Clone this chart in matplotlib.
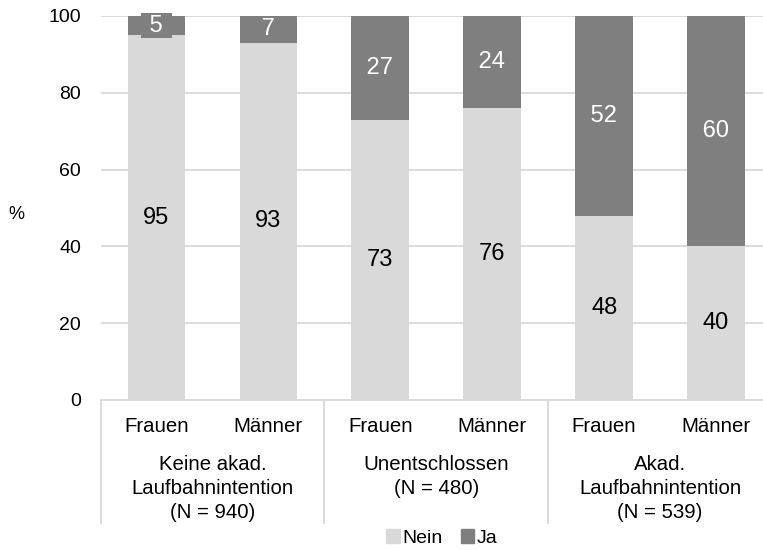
import matplotlib
matplotlib.use("Agg")
import matplotlib.pyplot as plt
from matplotlib.patches import Patch
import matplotlib.transforms as mtransforms

plt.rcParams['font.family'] = ['Liberation Sans', 'DejaVu Sans']

groups = ["Keine akad.\nLaufbahnintention\n(N = 940)",
          "Unentschlossen\n(N = 480)",
          "Akad.\nLaufbahnintention\n(N = 539)"]
sexes = ["Frauen", "Männer"]
nein = [95, 93, 73, 76, 48, 40]
ja = [5, 7, 27, 24, 52, 60]
yticks = [0, 20, 40, 60, 80, 100]

c_nein = '#d9d9d9'
c_ja = '#7f7f7f'
fs_tick = 14
fs_cat = 14.7
fs_lab = 17

W, H = 763, 550
fig = plt.figure(figsize=(W / 100, H / 100), dpi=100)
ax = fig.add_axes([100.5 / W, 150 / H, (772 - 100.5) / W, 384 / H])

x = list(range(len(nein)))
bw = 0.515
ax.bar(x, nein, width=bw, color=c_nein, zorder=2)
ax.bar(x, ja, width=bw, bottom=nein, color=c_ja, zorder=2)

for xi, n, j in zip(x, nein, ja):
    ax.text(xi, n / 2, str(n), ha='center', va='center', fontsize=fs_lab,
            color='black', zorder=3)
    ax.text(xi, n + j / 2, " " + str(j) + " ", ha='center', va='center',
            fontsize=fs_lab, color='white', zorder=3,
            bbox=dict(boxstyle='square,pad=0.08', fc=c_ja, ec='none'))

ax.set_xlim(-0.5, len(nein) - 0.5)
ax.set_ylim(0, 100)
ax.set_yticks(yticks)
ax.set_yticklabels([str(t) for t in yticks], fontsize=fs_tick)
ax.tick_params(axis='y', length=0, pad=14)
ax.set_xticks([])
ax.grid(axis='y', color='#d9d9d9', linewidth=1.3, zorder=0)
ax.set_axisbelow(True)
for s in ['left', 'right', 'top']:
    ax.spines[s].set_visible(False)
ax.spines['bottom'].set_color('#d9d9d9')
ax.spines['bottom'].set_linewidth(1.3)

trans = mtransforms.blended_transform_factory(ax.transData, ax.transAxes)
# category labels
for xi in x:
    ax.text(xi, -26 / 384, sexes[xi % 2], transform=trans, ha='center',
            va='center', fontsize=fs_cat)
# group labels
for gi, g in enumerate(groups):
    ax.text(2 * gi + 0.5, -55 / 384, g, transform=trans, ha='center',
            va='top', fontsize=fs_cat, linespacing=1.33)
# separators
for sx in [-0.5, 1.5, 3.5, 5.5]:
    ax.plot([sx, sx], [0, -123 / 384], transform=trans, color='#d9d9d9',
            linewidth=1.3, clip_on=False)

fig.text(16 / W, 1 - 214 / H, '%', fontsize=13, ha='center', va='center')

handles = [Patch(color=c_nein, label='Nein'), Patch(color=c_ja, label='Ja')]
fig.legend(handles=handles, loc='center', bbox_to_anchor=(442 / W, 12 / H),
           ncol=2, frameon=False, fontsize=14, handlelength=0.7,
           handleheight=0.7, handletextpad=0.15, columnspacing=0.9,
           borderaxespad=0, borderpad=0)

fig.savefig('out.png', dpi=100)
